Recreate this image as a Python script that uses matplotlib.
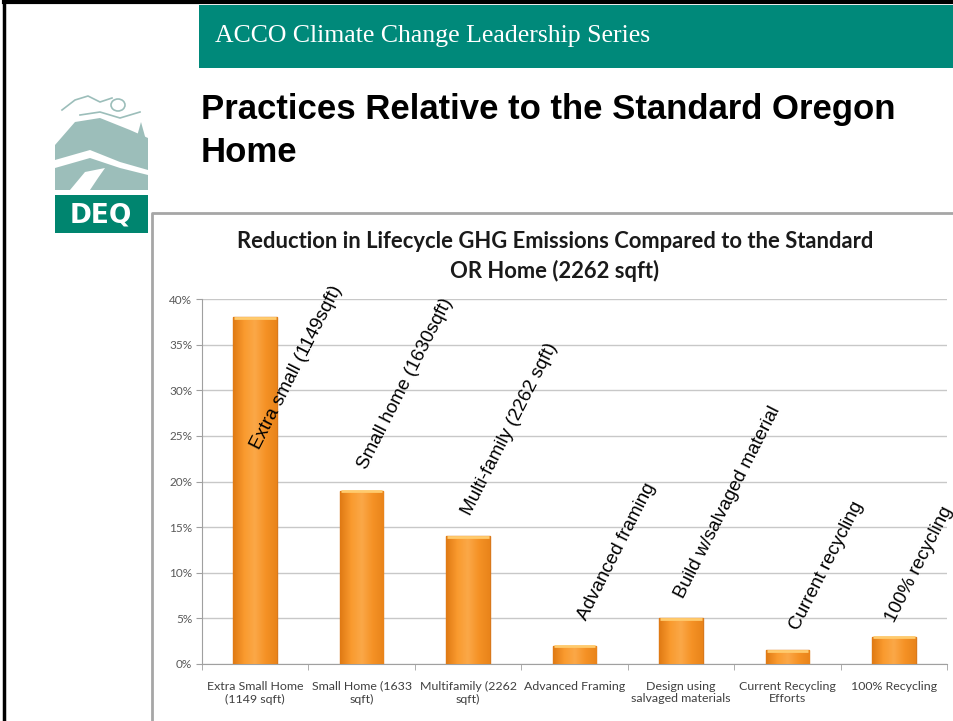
import numpy as np
import matplotlib
matplotlib.use("Agg")
import matplotlib.pyplot as plt
from matplotlib.patches import Rectangle, Polygon, Ellipse
from matplotlib.colors import LinearSegmentedColormap

W, H = 954, 721

# data
categories = ["Extra Small Home\n(1149 sqft)", "Small Home (1633\nsqft)", "Multifamily (2262\nsqft)",
              "Advanced Framing", "Design using\nsalvaged materials", "Current Recycling\nEfforts",
              "100% Recycling"]
reductions = [0.38, 0.19, 0.14, 0.02, 0.05, 0.015, 0.03]
notes = ["Extra small (1149sqft)", "Small home (1630sqft)", "Multi-family (2262 sqft)",
         "Advanced framing", "Build w/salvaged material", "Current recycling", "100% recycling"]
note_x = [0.07, 1.08, 2.06, 3.15, 4.06, 5.14, 6.04]
note_y = [0.232, 0.210, 0.160, 0.045, 0.069, 0.034, 0.043]
yticks = [0, 0.05, 0.10, 0.15, 0.20, 0.25, 0.30, 0.35, 0.40]


def px(x, y, w, h):
    # pixel box (top-left origin) -> figure fraction rect
    return [x / W, 1 - (y + h) / H, w / W, h / H]


fig = plt.figure(figsize=(W / 100, H / 100), dpi=100)
fig.patch.set_facecolor("white")

bg = fig.add_axes([0, 0, 1, 1])
bg.set_xlim(0, W)
bg.set_ylim(H, 0)
bg.set_axis_off()

# slide frame
bg.plot([4, 4], [2, H], color="black", lw=2.5)
bg.plot([4, W], [2, 2], color="black", lw=3)

# banner
bg.add_patch(Rectangle((199, 5), W - 199, 63, color="#00897A", lw=0))
bg.text(215, 36, "ACCO Climate Change Leadership Series", color="white",
        family="Liberation Serif", fontsize=18.5, va="center", ha="left")

# slide title
bg.text(201, 110, "Practices Relative to the Standard Oregon", family="Liberation Sans",
        fontweight="bold", fontsize=25, va="center", ha="left")
bg.text(201, 152, "Home", family="Liberation Sans", fontweight="bold", fontsize=25,
        va="center", ha="left")

# logo (simplified)
lc = "#9CBEBA"
bg.add_patch(Polygon([[55, 145], [75, 122], [100, 118], [130, 130], [148, 138], [148, 190],
                      [55, 190]], color=lc, lw=0))
bg.add_patch(Polygon([[55, 160], [90, 150], [120, 162], [148, 170], [148, 175], [120, 168],
                      [90, 158], [55, 168]], color="white", lw=0))
bg.add_patch(Polygon([[70, 190], [85, 172], [105, 168], [98, 178], [90, 190]], color="white", lw=0))
bg.add_patch(Polygon([[136, 140], [141, 122], [146, 140]], color=lc, lw=0))
bg.add_patch(Ellipse((118, 105), 14, 12, fill=False, ec=lc, lw=1.2))
bg.plot([62, 75, 88, 100, 112], [110, 100, 96, 102, 98], color=lc, lw=1.2)
bg.plot([80, 100, 120, 140], [115, 112, 118, 112], color=lc, lw=1.2)
bg.add_patch(Rectangle((55, 195), 93, 38, color="#00856F", lw=0))
bg.text(101, 215, "DEQ", color="white", family="DejaVu Sans", fontweight="bold",
        fontsize=19, ha="center", va="center")

# chart panel border
bg.plot([152, 152, W], [H, 213, 213], color="#A6A6A6", lw=2)

# chart title
bg.text(555, 241, "Reduction in Lifecycle GHG Emissions Compared to the Standard",
        family="Lato", fontweight="bold", fontsize=15.8, ha="center", va="center", color="#1a1a1a")
bg.text(555, 271, "OR Home (2262 sqft)", family="Lato", fontweight="bold", fontsize=15.8,
        ha="center", va="center", color="#1a1a1a")

# plot area
ax = fig.add_axes(px(202, 299, 745, 365))
x = np.arange(len(categories))
bw = 0.41
bars = ax.bar(x, reductions, width=bw, color="#F5962A", edgecolor="#D9791C", linewidth=1, zorder=3)

# orange shading on bars
orange = LinearSegmentedColormap.from_list("orange", ["#E07A14", "#F99A2E", "#FBA848", "#F59225", "#E9841A"])
grad = np.linspace(0, 1, 64)[None, :]
for b in bars:
    im = ax.imshow(grad, cmap=orange, aspect="auto", zorder=3.5,
                   extent=[b.get_x(), b.get_x() + b.get_width(), 0, b.get_height()])
    im.set_clip_path(b)
    ax.plot([b.get_x() + 0.01, b.get_x() + b.get_width() - 0.01], [b.get_height() - 0.0006] * 2,
            color="#FFCB6E", lw=2, zorder=4, solid_capstyle="butt")

ax.set_xlim(-0.5, len(categories) - 0.5)
ax.set_ylim(0, 0.40)
ax.set_yticks(yticks)
ax.set_yticklabels([f"{int(round(v * 100))}%" for v in yticks])
ax.yaxis.grid(True, color="#C8C8C8", lw=1, zorder=0)
ax.set_xticks(x)
ax.set_xticklabels(categories, family="Lato", fontsize=8.9, color="#404040")
ax.set_xticks(np.arange(len(categories) + 1) - 0.5, minor=True)
ax.tick_params(axis="x", which="major", length=0, pad=12)
ax.tick_params(axis="x", which="minor", length=4, color="#A0A0A0")
ax.tick_params(axis="y", length=4, color="#A0A0A0", labelsize=8.5, labelcolor="#595959", pad=3)
for lbl in ax.get_yticklabels():
    lbl.set_family("Lato")
for s in ["top", "right"]:
    ax.spines[s].set_visible(False)
ax.spines["left"].set_color("#A0A0A0")
ax.spines["bottom"].set_color("#A0A0A0")

for nx, ny, t in zip(note_x, note_y, notes):
    ax.text(nx, ny, t, rotation=63, rotation_mode="anchor", ha="left", va="bottom",
            family="Liberation Sans", fontsize=13.6, zorder=5, clip_on=False)

fig.savefig("out.png", dpi=100)
